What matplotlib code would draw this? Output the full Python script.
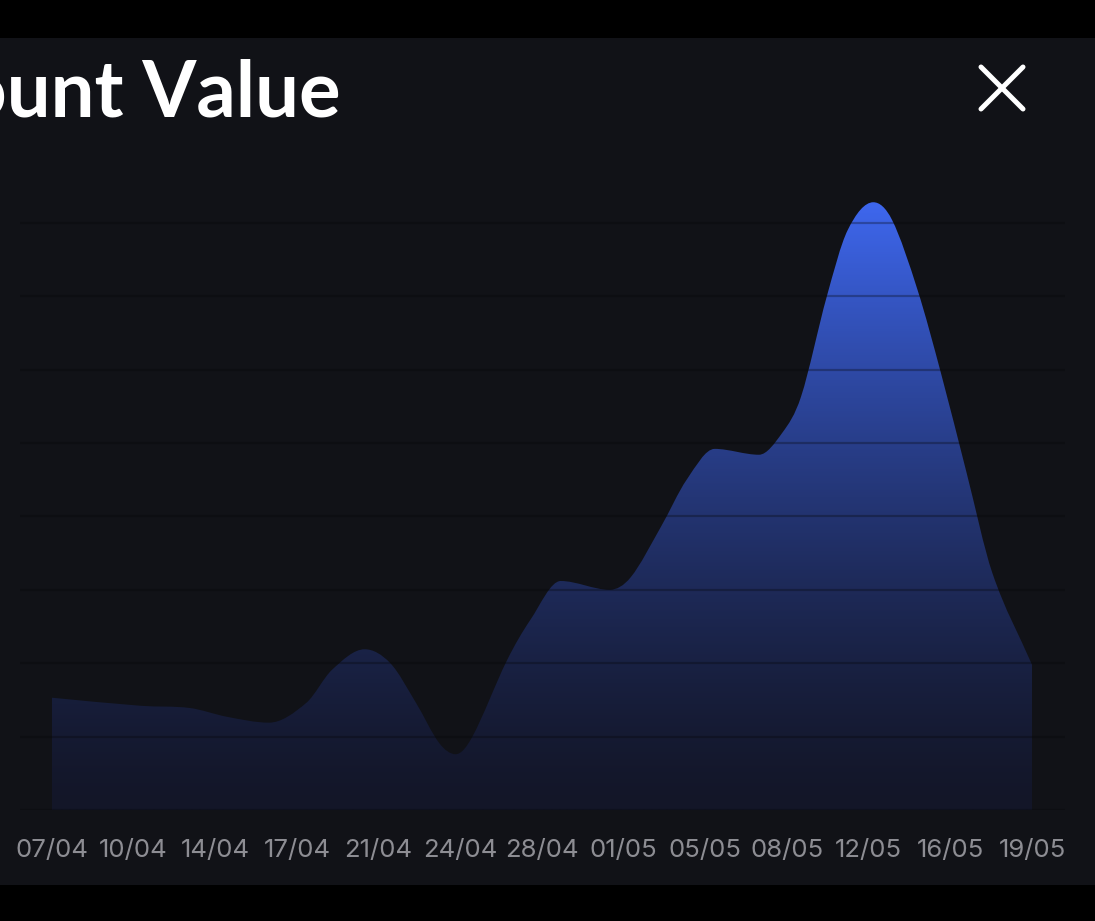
import numpy as np
import matplotlib
matplotlib.use("Agg")
import matplotlib.pyplot as plt
from matplotlib.path import Path
from matplotlib.patches import PathPatch, Rectangle
from matplotlib.lines import Line2D

# ---- data (day offset from 07/04, value in grid units) ----
days = [0, 3.8, 5.9, 7.5, 9.3, 10.9, 12.0, 13.4, 14.5, 15.6, 16.6, 17.3, 18.0,
        19.5, 20.5, 21.8, 23.9, 24.8, 26.1, 27.2, 28.4, 30.3, 31.3, 32.1, 33.2,
        34.1, 35.2, 36.0, 37.1, 38.1, 39.2, 40.3, 42.0]
values = [1.53, 1.42, 1.39, 1.27, 1.19, 1.46, 1.91, 2.19, 2.00, 1.46, 0.91, 0.76, 0.99,
          2.04, 2.59, 3.12, 3.00, 3.17, 3.86, 4.50, 4.92, 4.84, 5.14, 5.63, 6.99,
          7.90, 8.28, 8.04, 7.08, 5.95, 4.59, 3.23, 1.98]
tick_labels = ["07/04", "10/04", "14/04", "17/04", "21/04", "24/04", "28/04",
               "01/05", "05/05", "08/05", "12/05", "16/05", "19/05"]
title = "Account Value"

W, H = 1095, 921
BG = "#111217"

fig = plt.figure(figsize=(W / 100, H / 100), dpi=100, facecolor=BG)

# black bars top & bottom
fig.patches.append(Rectangle((0, 1 - 38 / H), 1, 38 / H, transform=fig.transFigure,
                             facecolor="black", edgecolor="none", zorder=0))
fig.patches.append(Rectangle((0, 0), 1, 36 / H, transform=fig.transFigure,
                             facecolor="black", edgecolor="none", zorder=0))

# axes: px x 20..1065, y(top) 180 .. 810
ax_l, ax_r, ax_t, ax_b = 20, 1065, 180, 810
ax = fig.add_axes([ax_l / W, 1 - ax_b / H, (ax_r - ax_l) / W, (ax_b - ax_t) / H])
ax.set_facecolor(BG)
for s in ax.spines.values():
    s.set_visible(False)

pxday = 980 / 42.0
ax.set_xlim(-(52 - ax_l) / pxday, 42 + (ax_r - 1032) / pxday)
unit = 73.4
ax.set_ylim(0, (ax_b - ax_t) / unit)

# smooth cubic (centred tangents, flat at local extrema) -> bezier path
x = np.array(days, float)
y = np.array(values, float)
n = len(x)
h = np.diff(x)
d = np.diff(y) / h
m = np.zeros(n)
m[0] = d[0]
m[-1] = d[-1]
for i in range(1, n - 1):
    if d[i - 1] * d[i] <= 0:
        m[i] = 0
    else:
        m[i] = (y[i + 1] - y[i - 1]) / (x[i + 1] - x[i - 1])
verts = [(x[0], 0), (x[0], y[0])]
codes = [Path.MOVETO, Path.LINETO]
for i in range(n - 1):
    verts += [(x[i] + h[i] / 3, y[i] + m[i] * h[i] / 3),
              (x[i + 1] - h[i] / 3, y[i + 1] - m[i + 1] * h[i] / 3),
              (x[i + 1], y[i + 1])]
    codes += [Path.CURVE4] * 3
verts += [(x[-1], 0), (x[0], 0)]
codes += [Path.LINETO, Path.CLOSEPOLY]
path = Path(verts, codes)
patch = PathPatch(path, facecolor="none", edgecolor="none")
ax.add_patch(patch)

# vertical gradient
ymax = max(values)
ny = 400
t = np.linspace(0, 1, ny)[:, None]
top = np.array([62, 103, 238]) / 255
bot = np.array([19, 22, 40]) / 255
tt = t ** 1.4
img = bot + (top - bot) * tt
img = img[:, None, :].repeat(2, axis=1)
im = ax.imshow(img, origin="lower", aspect="auto",
               extent=[x[0], x[-1], 0, ymax], interpolation="bilinear", zorder=1)
im.set_clip_path(patch)

# grid lines on top, faint dark
for g in range(0, 9):
    ax.axhline(g, color="#050608", alpha=0.3, lw=1.6, zorder=2)

ax.set_yticks([])
ax.set_xticks(np.linspace(0, 42, len(tick_labels)))
ax.set_xticklabels(tick_labels, fontfamily="Inter", fontsize=18.5, color="#8d8d93")
ax.tick_params(axis="x", length=0, pad=21)

# title (left part runs off the canvas, as in the reference)
fig.text(341 / W, 1 - 116 / H, title, ha="right", va="baseline",
         fontfamily="Lato", fontweight="bold", fontsize=56, color="white")

# close icon
cx, cy, r = 1002, 88, 21
for (x0, y0, x1, y1) in [(cx - r, cy - r, cx + r, cy + r), (cx - r, cy + r, cx + r, cy - r)]:
    fig.add_artist(Line2D([x0 / W, x1 / W], [1 - y0 / H, 1 - y1 / H],
                          transform=fig.transFigure, color="white", lw=3.6,
                          solid_capstyle="round"))

fig.savefig("out.png", dpi=100, facecolor=BG)
